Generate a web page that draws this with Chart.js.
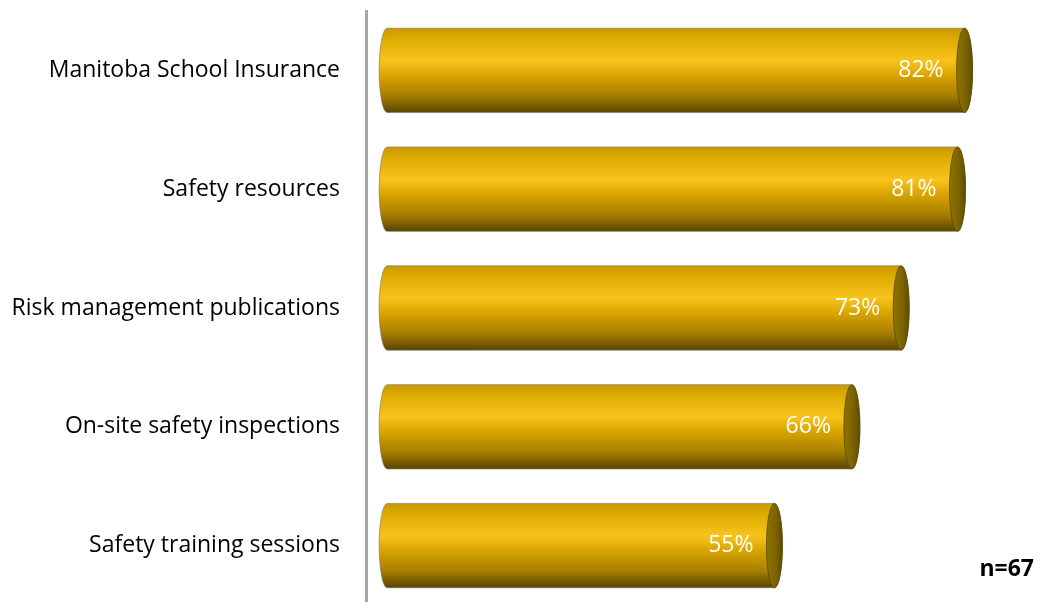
<!DOCTYPE html>
<html>
<head>
<meta charset="utf-8">
<script src="https://cdn.jsdelivr.net/npm/chart.js@4.4.1/dist/chart.umd.min.js"></script>
<style>
  html, body { margin: 0; padding: 0; background: #fff; overflow: hidden; }
  #wrap { position: relative; width: 1039px; height: 605px; }
</style>
</head>
<body>
<div id="wrap"><canvas id="Chart"></canvas></div>
<script>
// 項目とパーセント値
const categories = [
  'Manitoba School Insurance',
  'Safety resources',
  'Risk management publications',
  'On-site safety inspections',
  'Safety training sessions'
];
const values = [82, 81, 73, 66, 55];
const sampleNote = 'n=67';

const labelFont = '"Open Sans", "DejaVu Sans", sans-serif';

// 円柱の描画（バー本体は透明にして、ここで描く）
const cylinderPlugin = {
  id: 'cylinder',
  afterDatasetsDraw(chart) {
    const ctx = chart.ctx;
    const meta = chart.getDatasetMeta(0);
    meta.data.forEach((bar, i) => {
      const p = bar.getProps(['x', 'y', 'base', 'height'], true);
      const ry = p.height / 2;
      const rx = 8;
      const top = p.y - ry;
      const bottom = p.y + ry;

      // 本体：縦方向のグラデーション
      const g = ctx.createLinearGradient(0, top, 0, bottom);
      g.addColorStop(0.0, '#c99a00');
      g.addColorStop(0.12, '#dcaa00');
      g.addColorStop(0.38, '#f8c41c');
      g.addColorStop(0.56, '#d9a400');
      g.addColorStop(0.8, '#a77e00');
      g.addColorStop(1.0, '#5a4500');

      ctx.save();
      ctx.beginPath();
      ctx.moveTo(p.base, top);
      ctx.lineTo(p.x, top);
      ctx.ellipse(p.x, p.y, rx, ry, 0, -Math.PI / 2, Math.PI / 2);
      ctx.lineTo(p.base, bottom);
      ctx.ellipse(p.base, p.y, rx, ry, 0, Math.PI / 2, Math.PI * 1.5);
      ctx.closePath();
      ctx.fillStyle = g;
      ctx.fill();
      ctx.lineWidth = 1;
      ctx.strokeStyle = 'rgba(120,115,105,0.6)';
      ctx.stroke();

      // 右端のふた
      const c = ctx.createLinearGradient(p.x - rx, 0, p.x + rx, 0);
      c.addColorStop(0, '#8f7400');
      c.addColorStop(0.6, '#7a6200');
      c.addColorStop(1, '#5e4b00');
      ctx.beginPath();
      ctx.ellipse(p.x, p.y, rx, ry, 0, 0, Math.PI * 2);
      ctx.fillStyle = c;
      ctx.fill();
      ctx.strokeStyle = 'rgba(90,72,0,0.8)';
      ctx.stroke();

      // 値ラベル
      ctx.fillStyle = '#ffffff';
      ctx.font = '23px ' + labelFont;
      ctx.textAlign = 'right';
      ctx.textBaseline = 'middle';
      ctx.fillText(values[i] + '%', p.x - 21, p.y);
      ctx.restore();
    });
  },
  afterDraw(chart) {
    const ctx = chart.ctx;
    ctx.save();
    ctx.fillStyle = '#000';
    ctx.font = 'bold 23px ' + labelFont;
    ctx.textAlign = 'right';
    ctx.textBaseline = 'alphabetic';
    ctx.fillText(sampleNote, 1034, 576);
    ctx.restore();
  }
};

let barCtx = document.getElementById('Chart');
let barConfig = {
  type: 'bar',
  data: {
    labels: categories,
    datasets: [{
      data: values,
      backgroundColor: 'rgba(0,0,0,0)',
      borderWidth: 0,
      barPercentage: 0.71,
      categoryPercentage: 1.0
    }]
  },
  options: {
    indexAxis: 'y',
    responsive: true,
    maintainAspectRatio: false,
    animation: false,
    events: [],
    layout: { padding: { top: 11, right: 4, bottom: 0, left: 0 } },
    plugins: {
      legend: { display: false },
      tooltip: { enabled: false }
    },
    scales: {
      x: {
        display: false,
        min: -3,
        max: 92
      },
      y: {
        grid: { display: false, drawTicks: false },
        border: { display: true, color: '#a6a6a6', width: 3 },
        ticks: {
          color: '#000',
          padding: 26,
          font: { family: labelFont, size: 23 }
        },
        afterFit(scale) {
          // 軸線の位置を固定し、上下の余白を消す
          scale.width = 366;
          scale.paddingTop = 0;
          scale.paddingBottom = 0;
        }
      }
    }
  },
  plugins: [cylinderPlugin]
};
let barChart = new Chart(barCtx, barConfig);
</script>
</body>
</html>
